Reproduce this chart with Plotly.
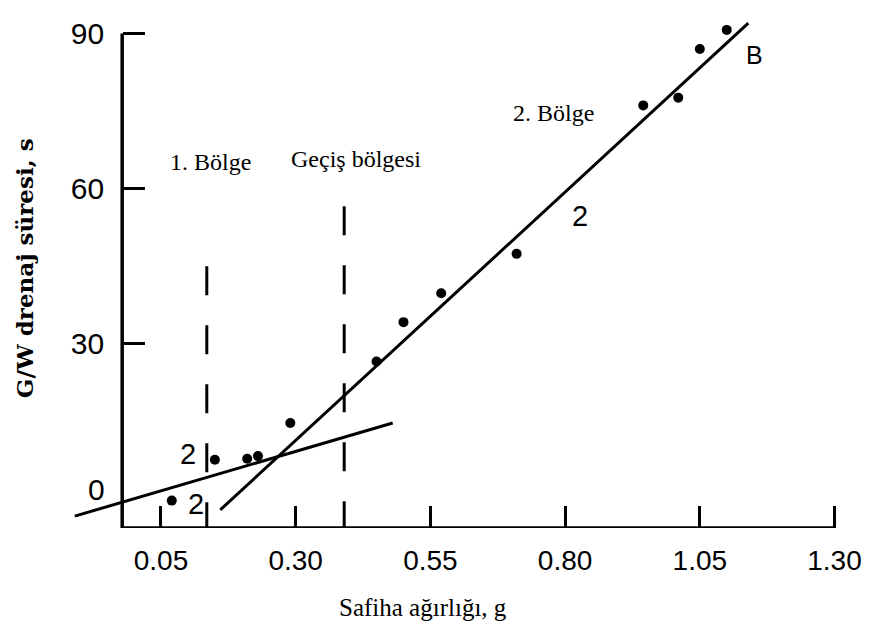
import plotly.graph_objects as go

# ---- data ----
weight = [0.07, 0.15, 0.21, 0.23, 0.29, 0.45, 0.50, 0.57, 0.71, 0.945, 1.01, 1.05, 1.10]
drain_time = [-0.3, 7.6, 7.8, 8.3, 14.7, 26.6, 34.2, 39.8, 47.4, 76.1, 77.6, 87.0, 90.7]

fit1_x = [-0.11, 0.48]
fit1_y = [-3.3, 14.7]
fit2_x = [0.16, 1.14]
fit2_y = [-2.1, 92.0]

boundary1_x = [0.135, 0.135]
boundary1_y = [45.0, -5.6]
boundary2_x = [0.39, 0.39]
boundary2_y = [56.6, -5.6]

x_ticks = [0.05, 0.30, 0.55, 0.80, 1.05, 1.30]
x_tick_text = ["0.05", "0.30", "0.55", "0.80", "1.05", "1.30"]
y_ticks = [30, 60, 90]
y_tick_text = ["30", "60", "90"]

X_RANGE = [-0.13, 1.338]
Y_RANGE = [-5.6, 93]
Y_AXIS_X = -0.022

NARROW = "Liberation Sans Narrow, Arial Narrow, Liberation Sans, sans-serif"
TICK_FONT = dict(family=NARROW, size=28, color="black")
SERIF = "Liberation Serif, Times New Roman, serif"

fig = go.Figure()

line_style = dict(color="black", width=3)
fig.add_trace(go.Scatter(x=fit1_x, y=fit1_y, mode="lines", line=line_style, showlegend=False))
fig.add_trace(go.Scatter(x=fit2_x, y=fit2_y, mode="lines", line=line_style, showlegend=False))
fig.add_trace(go.Scatter(x=boundary1_x, y=boundary1_y, mode="lines",
                         line=dict(color="black", width=3, dash="29px,30px"), showlegend=False))
fig.add_trace(go.Scatter(x=boundary2_x, y=boundary2_y, mode="lines",
                         line=dict(color="black", width=3, dash="29px,30px"), showlegend=False))
fig.add_trace(go.Scatter(x=weight, y=drain_time, mode="markers",
                         marker=dict(color="black", size=10), showlegend=False))

# axis lines
fig.add_shape(type="line", xref="x", yref="y", x0=Y_AXIS_X, x1=x_ticks[-1], y0=Y_RANGE[0], y1=Y_RANGE[0],
              line=dict(color="black", width=3.5))
fig.add_shape(type="line", xref="x", yref="y", x0=Y_AXIS_X, x1=Y_AXIS_X, y0=Y_RANGE[0], y1=y_ticks[-1],
              line=dict(color="black", width=3.5))

def note(text, x, y, size=24, family=SERIF, **kw):
    fig.add_annotation(text=text, x=x, y=y, xref="x", yref="y", showarrow=False,
                       xanchor="center", yanchor="middle",
                       font=dict(family=family, size=size, color="black"), **kw)

note("1. Bölge", 0.142, 65.1)
note("Geçiş bölgesi", 0.411, 65.8)
note("2. Bölge", 0.779, 74.6)
note("2", 0.827, 54.8, size=29, family=NARROW)
note("B", 1.152, 85.9, size=25, family=NARROW)
note("2", 0.101, 8.7, size=29, family=NARROW)
note("2", 0.115, -1.0, size=29, family=NARROW)
note("0", -0.069, 1.8, size=30, family=NARROW)

fig.add_annotation(text="Safiha ağırlığı, g", x=0.536, y=-0.155, xref="x", yref="paper",
                   xanchor="center", yanchor="middle",
                   showarrow=False, font=dict(family=SERIF, size=25, color="black"))
fig.add_annotation(text="G/W drenaj süresi, s", x=-0.049, y=0.51, xref="paper", yref="paper",
                   xanchor="center", yanchor="middle",
                   showarrow=False, textangle=-90,
                   font=dict(family="DejaVu Serif, serif", size=23, color="black", weight="bold"))

y_pos = (Y_AXIS_X - X_RANGE[0]) / (X_RANGE[1] - X_RANGE[0])

# the page body adds an 8px margin on each side, so the figure is 16px smaller than the window
fig.update_layout(
    width=854, height=622,
    margin=dict(l=56, r=7, t=10, b=102),
    paper_bgcolor="white", plot_bgcolor="white",
    xaxis=dict(range=X_RANGE, showline=False, showgrid=False, zeroline=False, automargin=False,
               tickvals=x_ticks, ticktext=x_tick_text, ticks="inside", ticklen=22,
               tickwidth=3, tickcolor="black", tickfont=TICK_FONT, ticklabelstandoff=13,
               ticklabeloverflow="allow"),
    yaxis=dict(range=Y_RANGE, showline=False, showgrid=False, zeroline=False, automargin=False,
               anchor="free", position=y_pos,
               tickvals=y_ticks, ticktext=y_tick_text, ticks="inside", ticklen=22,
               tickwidth=3, tickcolor="black", tickfont=dict(TICK_FONT, size=30), ticklabelstandoff=18,
               ticklabeloverflow="allow"),
)

fig.write_html("out.html")
